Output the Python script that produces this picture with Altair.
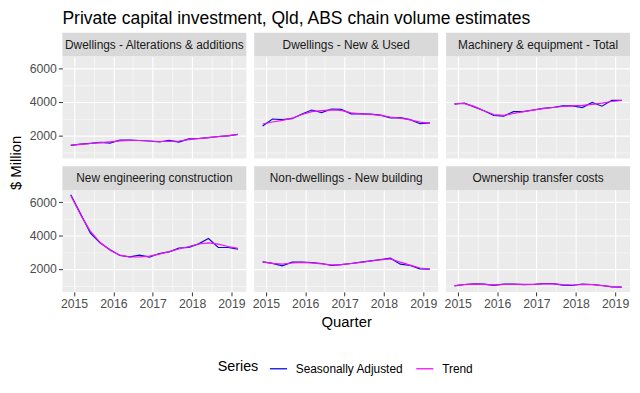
import altair as alt
import pandas as pd

# ---------------- data ----------------
quarters = ["2014-12", "2015-03", "2015-06", "2015-09", "2015-12", "2016-03",
            "2016-06", "2016-09", "2016-12", "2017-03", "2017-06", "2017-09",
            "2017-12", "2018-03", "2018-06", "2018-09", "2018-12", "2019-03"]

categories = ["Dwellings - Alterations & additions", "Dwellings - New & Used",
              "Machinery & equipment - Total", "New engineering construction",
              "Non-dwellings - New building", "Ownership transfer costs"]

series_names = ["Seasonally Adjusted", "Trend"]

sa_alterations = [1400, 1470, 1520, 1580, 1530, 1720, 1710, 1690, 1660, 1600, 1700, 1590, 1790, 1810, 1860, 1930, 1970, 2060]
tr_alterations = [1410, 1460, 1510, 1560, 1610, 1670, 1700, 1690, 1660, 1630, 1640, 1660, 1740, 1800, 1860, 1920, 1980, 2050]

sa_new_used = [2560, 2980, 2940, 3000, 3280, 3520, 3370, 3580, 3560, 3290, 3290, 3270, 3210, 3040, 3060, 2940, 2700, 2750]
tr_new_used = [2680, 2800, 2900, 3030, 3250, 3420, 3480, 3530, 3500, 3350, 3290, 3260, 3200, 3100, 3030, 2930, 2790, 2730]

sa_machinery = [3870, 3940, 3710, 3480, 3190, 3150, 3420, 3420, 3520, 3620, 3670, 3770, 3770, 3670, 3980, 3750, 4100, 4100]
tr_machinery = [3900, 3900, 3740, 3480, 3250, 3200, 3310, 3420, 3510, 3600, 3670, 3730, 3770, 3800, 3860, 3930, 4030, 4100]

sa_engineering = [6450, 5300, 4150, 3550, 3150, 2800, 2720, 2820, 2700, 2920, 3020, 3250, 3280, 3500, 3820, 3280, 3280, 3180]
tr_engineering = [6400, 5250, 4250, 3580, 3120, 2820, 2710, 2720, 2760, 2880, 3030, 3190, 3340, 3490, 3560, 3480, 3340, 3230]

sa_nondwell = [2420, 2330, 2180, 2400, 2410, 2370, 2320, 2200, 2250, 2320, 2400, 2480, 2560, 2640, 2280, 2200, 2000, 1980]
tr_nondwell = [2420, 2330, 2280, 2350, 2390, 2360, 2300, 2240, 2250, 2320, 2390, 2470, 2540, 2600, 2400, 2220, 2050, 1990]

sa_transfer = [980, 1060, 1100, 1080, 1010, 1080, 1080, 1050, 1060, 1110, 1110, 1020, 1000, 1090, 1060, 1000, 920, 900]
tr_transfer = [990, 1050, 1080, 1070, 1040, 1060, 1070, 1065, 1070, 1100, 1100, 1050, 1030, 1060, 1050, 990, 930, 900]

x_ticks = [2015, 2016, 2017, 2018, 2019]
y_ticks = [2000, 4000, 6000]

title_text = "Private capital investment, Qld, ABS chain volume estimates"

# ---------------- build table ----------------
sa_all = [sa_alterations, sa_new_used, sa_machinery, sa_engineering, sa_nondwell, sa_transfer]
tr_all = [tr_alterations, tr_new_used, tr_machinery, tr_engineering, tr_nondwell, tr_transfer]

def dec_year(q):
    y, m = q.split("-")
    return int(y) + (int(m) - 1) / 12.0

rows = []
for cat, sa, tr in zip(categories, sa_all, tr_all):
    for q, v in zip(quarters, sa):
        rows.append({"Quarter": dec_year(q), "category": cat, "series": series_names[0], "value": v})
    for q, v in zip(quarters, tr):
        rows.append({"Quarter": dec_year(q), "category": cat, "series": series_names[1], "value": v})
df = pd.DataFrame(rows)

x_grid = sorted(x_ticks + [t + 0.5 for t in x_ticks])
y_grid = sorted(y_ticks + [t - 1000 for t in y_ticks])

FONT = "Liberation Sans"
W, H = 186, 103
SH = 24                  # strip height
GAPS = [5, 8]            # blank space above the strips of each row
x_dom = [2014.704, 2019.379]
y_dom = [617, 6730]

def grid_w(test):
    return {"condition": {"test": test, "value": 1.1}, "value": 0.5}

def make_x_axis(show, title):
    test = "datum.value % 1 === 0"
    common = dict(values=x_grid, grid=True, gridColor="white", gridWidth=grid_w(test), domain=False)
    if show:
        kw = dict(labels=True, ticks=True, tickColor="#333333", tickSize=4, tickWidth=1,
                  tickOpacity={"condition": {"test": test, "value": 1}, "value": 0},
                  labelExpr="datum.value % 1 === 0 ? format(datum.value, 'd') : ''",
                  labelColor="#4D4D4D", labelFontSize=12.4, labelFont=FONT, labelPadding=2,
                  labelFlush=False, labelOverlap=False)
        if title:
            kw.update(title=title, titleFont=FONT, titleFontSize=15, titleFontWeight="normal",
                      titleColor="black", titlePadding=5)
        else:
            kw.update(title=None)
        return alt.Axis(**common, **kw)
    return alt.Axis(**common, labels=False, ticks=False, title=None)

def make_y_axis(show, title):
    test = "datum.value % 2000 === 0"
    common = dict(values=y_grid, grid=True, gridColor="white", gridWidth=grid_w(test), domain=False)
    if show:
        kw = dict(labels=True, ticks=True, tickColor="#333333", tickSize=4, tickWidth=1,
                  tickOpacity={"condition": {"test": test, "value": 1}, "value": 0},
                  labelExpr="datum.value % 2000 === 0 ? format(datum.value, 'd') : ''",
                  labelColor="#4D4D4D", labelFontSize=12.4, labelFont=FONT, labelPadding=2,
                  labelFlush=False, labelOverlap=False)
        if title:
            kw.update(title=title, titleFont=FONT, titleFontSize=15, titleFontWeight="normal",
                      titleColor="black", titleY=-(SH + 4), titlePadding=6)
        else:
            kw.update(title=None)
        return alt.Axis(**common, **kw)
    return alt.Axis(**common, labels=False, ticks=False, title=None)

color = alt.Color(
    "series:N",
    scale=alt.Scale(domain=series_names, range=["#0A0AE0", "#F010F0"]),
    legend=alt.Legend(
        title="Series", orient="none", direction="horizontal", titleOrient="left",
        legendX=157, legendY=335, symbolType="stroke", symbolSize=300, symbolStrokeWidth=1.3,
        labelFont=FONT, labelFontSize=12, titleFont=FONT, titleFontSize=14.5,
        titleFontWeight="normal", titleColor="black", labelColor="black",
        titleBaseline="middle", titleAnchor="middle",
        columnPadding=10, labelOffset=8, titlePadding=10,
    ),
)

def strip(cat, gap):
    base = alt.Chart(pd.DataFrame({"label": [cat]}))
    bg = base.mark_rect(color="#D9D9D9").encode(
        x=alt.value(0), x2=alt.value(W), y=alt.value(gap), y2=alt.value(gap + SH))
    txt = base.mark_text(font=FONT, fontSize=12, color="#1A1A1A", baseline="middle",
                         align="center").encode(
        text="label:N", x=alt.value(W / 2), y=alt.value(gap + SH / 2))
    return alt.layer(bg, txt).properties(width=W, height=gap + SH)

def panel(cat, col, row):
    show_x = row == 1
    show_y = col == 0
    x_title = "Quarter" if (row == 1 and col == 1) else None
    y_title = "$ Million" if (row == 1 and col == 0) else None
    return alt.Chart(df[df["category"] == cat]).mark_line(strokeWidth=1.2).encode(
        x=alt.X("Quarter:Q", scale=alt.Scale(domain=x_dom, nice=False, zero=False),
                axis=make_x_axis(show_x, x_title)),
        y=alt.Y("value:Q", scale=alt.Scale(domain=y_dom, nice=False, zero=False),
                axis=make_y_axis(show_y, y_title)),
        color=color,
        order=alt.Order("series:N"),
    ).properties(width=W, height=H, view=alt.ViewBackground(fill="#EBEBEB", stroke=None))

cells = []
for r in range(2):
    cats = categories[r * 3:(r + 1) * 3]
    cells += [strip(c, GAPS[r]) for c in cats]
    cells += [panel(c, i, r) for i, c in enumerate(cats)]

chart = alt.concat(*cells, columns=3, spacing={"row": 0, "column": 8}, bounds="flush").properties(
    title=alt.TitleParams(title_text, anchor="start", frame="group", font=FONT, fontSize=17.7,
                          fontWeight="normal", color="black", offset=0),
    padding={"left": 0, "top": 0, "right": 2, "bottom": 2},
).configure_view(stroke=None)

chart.save("out.html", embed_options={"renderer": "svg", "actions": False})
